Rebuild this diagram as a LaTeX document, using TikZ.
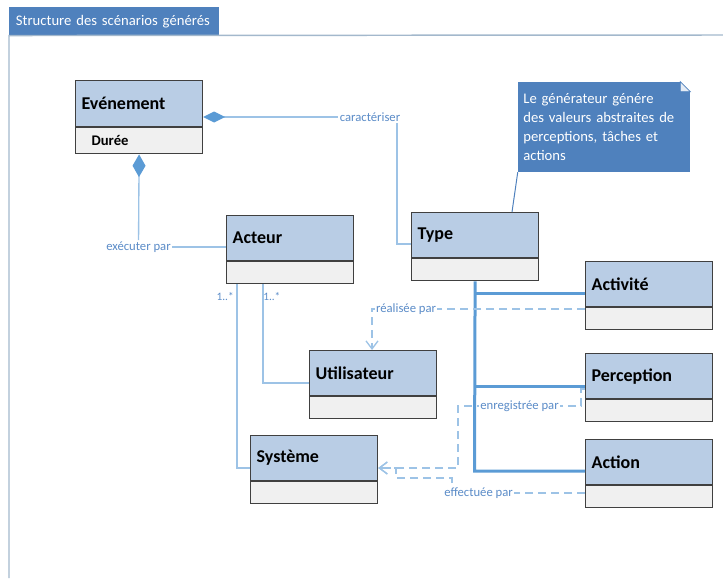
\documentclass[tikz,border=0pt]{standalone}
\usepackage{fontspec}
\setmainfont{Carlito}
\usetikzlibrary{positioning,arrows.meta}

\definecolor{entete}{HTML}{B9CDE5}
\definecolor{compart}{HTML}{F0F0F0}
\definecolor{bord}{HTML}{404040}
\definecolor{lienclair}{HTML}{9DC3E6}
\definecolor{lienfonce}{HTML}{5B9BD5}
\definecolor{textelien}{HTML}{5B8CC8}
\definecolor{bleunote}{HTML}{4F81BD}
\definecolor{cadre}{HTML}{A3B8CC}

\begin{document}
\begin{tikzpicture}[x=0.75pt,y=-0.75pt,
    every node/.append style={inner sep=0pt},
    classe/.style={draw=bord, line width=.9pt, fill=entete, anchor=north west,
                   minimum height=33.75pt, text width=86.25pt, inner xsep=4.5pt,
                   align=left, font=\fontsize{13.5}{16}\selectfont\bfseries},
    attrib/.style={draw=bord, line width=.9pt, fill=compart,
                   minimum width=95.25pt, minimum height=16.5pt},
    assoc/.style={draw=lienclair, line width=1pt},
    gen/.style={draw=lienfonce, line width=2.25pt},
    depend/.style={draw=lienclair, line width=1pt, dash pattern=on 6pt off 3.75pt,
                   -{Straight Barb[length=6pt,width=9pt]}},
    lien/.style={text=textelien, fill=white, inner sep=1pt,
                 font=\fontsize{9.5}{11}\selectfont},
    mult/.style={text=textelien, font=\fontsize{8.5}{10}\selectfont},
    note/.style={fill=bleunote, text=white, minimum width=129pt, minimum height=67.5pt,
                 text width=121pt, inner xsep=4pt, align=left,
                 font=\fontsize{11}{14.3}\selectfont},
    onglet/.style={fill=bleunote, text=white, anchor=north west, minimum height=21pt,
                   text width=147.5pt, inner xsep=5pt, align=left,
                   font=\fontsize{11}{13}\selectfont}]
    \useasboundingbox (0,0) rectangle (723,578);

    \node[onglet] (titre) at (9,7) {Structure des scénarios générés};
    \draw[cadre, line width=1.1pt] (723,35) -- (titre.south west) -- (9,578);

    \node[classe, minimum height=34.5pt] (evt) at (75,80) {Evénement};
    \node[attrib, below=0pt of evt, minimum height=19.5pt, text width=71.25pt, inner xsep=12pt,
          align=left, font=\fontsize{11}{13}\selectfont\bfseries] (evt-c) {Durée};
    \node[classe] (acteur) at (226,215) {Acteur};
    \node[attrib, below=0pt of acteur] (acteur-c) {};
    \node[classe] (type) at (411,212) {Type};
    \node[attrib, below=0pt of type] (type-c) {};
    \node[classe] (util) at (309,350) {Utilisateur};
    \node[attrib, below=0pt of util] (util-c) {};
    \node[classe] (systeme) at (250,435) {Système};
    \node[attrib, below=0pt of systeme] (systeme-c) {};
    \node[classe] (activite) at (585,261) {Activité};
    \node[attrib, below=0pt of activite] (activite-c) {};
    \node[classe] (percep) at (585,353) {Perception};
    \node[attrib, below=0pt of percep] (percep-c) {};
    \node[classe] (action) at (585,439) {Action};
    \node[attrib, below=0pt of action] (action-c) {};

    \node[note] (note) at (604,127) {Le générateur génére\\des valeurs abstraites de\\perceptions, tâches et\\actions};
    \fill[white] (note.north east) -- ++(-10,0) -- ++(10,10) -- cycle;
    \filldraw[fill=white!85!bleunote, draw=bleunote, line width=.5pt]
        (note.north east) ++(-10,0) -- ++(0,10) -- ++(10,0) -- cycle;
    \coordinate (k13) at (512,212);
    \draw[draw=bleunote, line width=.75pt] (note.south west) -- (type.north -| k13);

    \node[lien] (caract) at (370,117) {caractériser};
    \draw[assoc, {Diamond[length=16.5pt,width=8.25pt,color=lienfonce]}-] (evt.east |- caract) -- (caract);
    \coordinate (k1) at (397,244);
    \draw[assoc] (caract.south -| k1) -- (k1) -- (type.west |- k1);

    \node[lien] (execut) at (138.5,247) {exécuter par};
    \draw[assoc, {Diamond[length=17pt,width=9.75pt,color=lienfonce]}-] (evt-c.south) -- (execut);
    \draw[assoc] (execut.east) -- (acteur.west |- execut.east);

    \coordinate (k2) at (263,383);
    \draw[assoc] (acteur-c.south -| k2) -- (k2) -- (util.west |- k2);
    \node[mult, anchor=west] (m2) at (263,297) {1..*};
    \coordinate (k3) at (237,468);
    \draw[assoc] (acteur-c.south -| k3) -- (k3) -- (systeme.west |- k3);
    \node[mult, anchor=east] (m1) at (234,297) {1..*};

    \coordinate (k4) at (474.5,471);
    \coordinate (k5) at (474.5,293);
    \coordinate (k6) at (474.5,386);
    \draw[gen] (type-c.south) -- (k4) -- (action.west |- k4);
    \draw[gen] (k5) -- (activite.west |- k5);
    \draw[gen] (k6) -- (percep.west |- k6);

    \coordinate (k7) at (372,309);
    \draw[depend] (activite-c.west |- k7) -- node[lien, pos=.84] {réalisée par} (k7) -- (util.north -| k7);
    \coordinate (k8) at (581,389);
    \coordinate (k9) at (458,406);
    \coordinate (k10) at (400,468);
    \draw[depend] (percep.west |- k8) -- (k8) |- node[lien, pos=.75] {enregistrée par} (k9) |- (systeme.east |- k10);
    \coordinate (k11) at (452,493);
    \coordinate (k12) at (396,478);
    \draw[depend] (action-c.west |- k11) -- node[lien, pos=.8] {effectuée par} (k11) |- (k12) |- (systeme.east |- k10);
\end{tikzpicture}
\end{document}
